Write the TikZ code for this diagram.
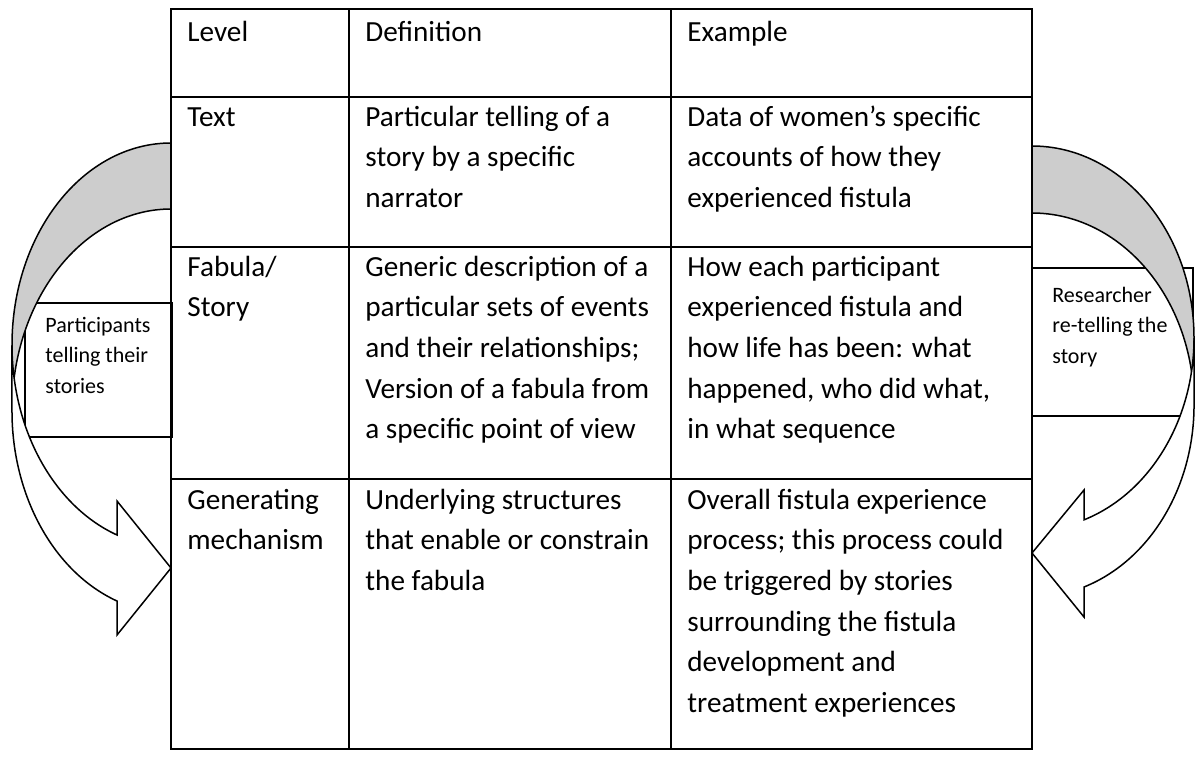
\documentclass[tikz,border=0pt]{standalone}
\usepackage{fontspec}
\setmainfont{Carlito}
\definecolor{arrowgray}{RGB}{205,205,205}
\begin{document}
\begin{tikzpicture}[x=0.5pt,y=-0.5pt,
  tline/.style={line width=1pt, line cap=rect},
  bline/.style={line width=0.7pt},
  aline/.style={line width=0.75pt, line join=miter},
  cellt/.style={anchor=base west, inner sep=0pt, align=flush left, text width=#1, font=\fontsize{14.6}{20.35}\selectfont},
  boxt/.style={anchor=base west, inner sep=0pt, align=flush left, text width=70pt, font=\fontsize{11}{15.25}\selectfont}]
\useasboundingbox (0,0) rectangle (1203,756);

% side boxes
\draw[bline] (25,303) rectangle (172,437);
\draw[bline] (1032,268) rectangle (1193,416);
\node[boxt] (ptxt) at (45,332) {Participants\\telling their\\stories};
\node[boxt] (rtxt) at (1052,302) {Researcher\\re-telling the\\story};

% left curved arrow
\filldraw[aline, fill=arrowgray] (171,143) arc[start angle=270, end angle=180, x radius=159, y radius=202]
  -- (12,411) arc[start angle=180, end angle=270, x radius=159, y radius=202] -- cycle;
\filldraw[aline, fill=white] (12,345) arc[start angle=180, end angle=109.85, x radius=159, y radius=202]
  -- (117,501) -- (171,568) -- (117,635) -- (117,601)
  arc[start angle=109.85, end angle=180, x radius=159, y radius=202] -- cycle;

% right curved arrow
\filldraw[aline, fill=arrowgray] (1032,146) arc[start angle=270, end angle=360, x radius=162, y radius=192]
  -- (1194,405) arc[start angle=0, end angle=-90, x radius=162, y radius=192] -- cycle;
\filldraw[aline, fill=white] (1194,338) arc[start angle=0, end angle=71.28, x radius=162, y radius=192]
  -- (1084,490) -- (1032,553) -- (1084,617) -- (1084,587)
  arc[start angle=71.28, end angle=0, x radius=162, y radius=192] -- cycle;

% table grid
\draw[tline] (171,9) rectangle (1032,749);
\draw[tline] (171,97) -- (1032,97);
\draw[tline] (171,247) -- (1032,247);
\draw[tline] (171,479) -- (1032,479);
\draw[tline] (349,9) -- (349,749);
\draw[tline] (671,9) -- (671,749);

% header
\node[cellt=75pt] (h1) at (187,41) {Level};
\node[cellt=150pt] (h2) at (365,41) {Definition};
\node[cellt=170pt] (h3) at (687,41) {Example};
% text row
\node[cellt=75pt] (t1) at (187,126) {Text};
\node[cellt=150pt] (t2) at (365,126) {Particular telling of a\\story by a specific\\narrator};
\node[cellt=170pt] (t3) at (687,126) {Data of women’s specific\\accounts of how they\\experienced fistula};
% fabula row
\node[cellt=75pt] (f1) at (187,276) {Fabula/\\Story};
\node[cellt=150pt] (f2) at (365,276) {Generic description of a\\particular sets of events\\and their relationships;\\Version of a fabula from\\a specific point of view};
\node[cellt=170pt] (f3) at (687,276) {How each participant\\experienced fistula and\\how life has been: what\\happened, who did what,\\in what sequence};
% generating row
\node[cellt=75pt] (g1) at (187,509) {Generating\\mechanism};
\node[cellt=150pt] (g2) at (365,509) {Underlying structures\\that enable or constrain\\the fabula};
\node[cellt=170pt] (g3) at (687,509) {Overall fistula experience\\process; this process could\\be triggered by stories\\surrounding the fistula\\development and\\treatment experiences};
\end{tikzpicture}
\end{document}
